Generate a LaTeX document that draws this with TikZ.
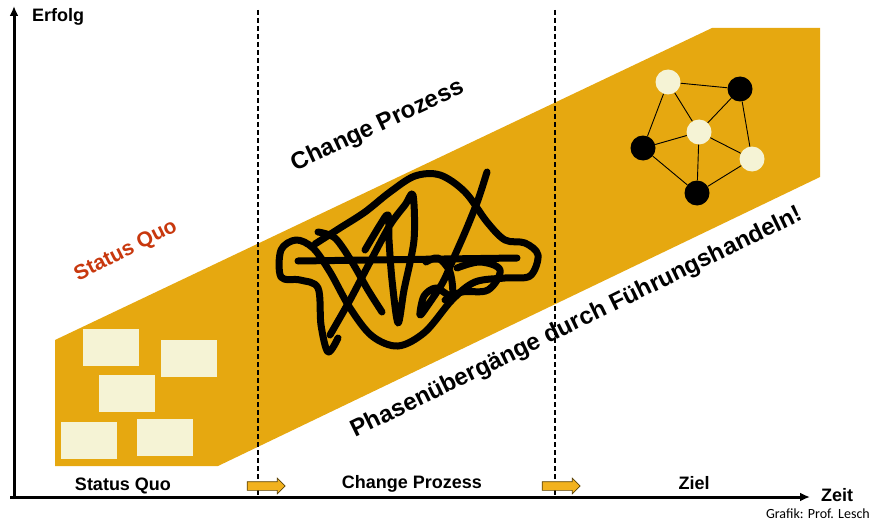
\documentclass[tikz,border=0pt]{standalone}
\usepackage{fontspec}
\setmainfont{Liberation Sans}
\newfontfamily\grafikfont{Carlito}
\usepackage{tikz}
\usetikzlibrary{positioning, arrows.meta, shapes.arrows}

\definecolor{banda}{RGB}{230,168,16}
\definecolor{crema}{RGB}{245,243,213}
\definecolor{rosso}{RGB}{200,56,14}
\definecolor{freccia}{RGB}{242,178,30}

\tikzset{
	notiz/.style={rectangle, fill=crema, minimum width=56pt, minimum height=37pt, inner sep=0pt},
	nodochiaro/.style={circle, fill=crema, minimum size=25pt, inner sep=0pt},
	nodoscuro/.style={circle, fill=black, minimum size=25pt, inner sep=0pt},
	fase/.style={single arrow, draw=black!60!banda, line width=0.7pt, fill=freccia, minimum height=38pt, single arrow head extend=3.5pt, inner sep=0pt},
	titolo/.style={font=\bfseries\fontsize{24}{28}\selectfont, inner sep=0pt},
	etichetta/.style={font=\bfseries\fontsize{18}{20}\selectfont, inner sep=0pt},
	filo/.style={line width=7pt, line join=round, line cap=round}
}

\begin{document}
\begin{tikzpicture}[x=1pt, y=-1pt]
		\useasboundingbox (0,0) rectangle (872,524);
		
		%Rappresento la banda
		\fill[banda] (55,340) -- (712,28) -- (820,28) -- (820,177) -- (218,466) -- (55,466) -- cycle;
		
		%Rappresento le linee tratteggiate
		\coordinate (sep1top) at (258,10);
		\coordinate (sep1bot) at (258,497);
		\coordinate (sep2top) at (555,10);
		\coordinate (sep2bot) at (555,497);
		\draw[dash pattern=on 5pt off 3pt, line width=1.2pt] (sep1top) -- (sep1bot);
		\draw[dash pattern=on 5pt off 3pt, line width=1.2pt] (sep2top) -- (sep2bot);
		
		%Inserisco i foglietti
		\node (nota1) at (111,347.5) [notiz]{};
		\node (nota2) at (189,358.5) [notiz]{};
		\node (nota3) at (127,393.5) [notiz]{};
		\node (nota4) at (89,440.5) [notiz]{};
		\node (nota5) at (165,437.5) [notiz]{};
		
		%Disegno il groviglio
		\draw[filo] (298,261) -- (517,258);
		\draw[filo] plot[smooth, tension=0.55] coordinates {
			(338,338) (328,352) (321,325) (318,288) (300,280) (281,277) (281,250) (296,240) (313,248) (330,272)
			(350,308) (372,336) (398,346) (425,332) (452,300) (475,282) (505,278) (530,276) (538,255) (525,243)
			(505,240) (487,222) (465,192) (440,175) (415,176) (390,192) (365,212) (340,228) (315,244)};
		\draw[filo] plot[smooth, tension=0.5] coordinates {(318,232) (335,238) (352,262) (368,290) (382,312)};
		\draw[filo] plot[smooth, tension=0.5] coordinates {
			(330,335) (350,300) (370,262) (390,225) (405,205) (413,195) (414,240) (404,290) (398,323)
			(392,280) (389,240) (388,215) (380,225) (365,250)};
		\draw[filo] plot[smooth, tension=0.5] coordinates {
			(487,172) (478,200) (466,230) (455,255) (443,282) (428,305) (420,315) (424,296) (436,288)
			(452,296) (450,272) (438,258) (426,262)};
		\draw[filo] plot[smooth, tension=0.6] coordinates {(457,268) (480,262) (500,270) (488,290) (462,292) (445,300)};
		
		%Inserisco la rete
		\node (reteA) at (668,82) [nodochiaro]{};
		\node (reteB) at (740,89) [nodoscuro]{};
		\node (reteC) at (699,132) [nodochiaro]{};
		\node (reteD) at (643,148) [nodoscuro]{};
		\node (reteE) at (752,159) [nodochiaro]{};
		\node (reteF) at (697,193) [nodoscuro]{};
		\draw[line width=0.9pt] (reteA) -- (reteB);
		\draw[line width=0.9pt] (reteA) -- (reteD);
		\draw[line width=0.9pt] (reteA) -- (reteC);
		\draw[line width=0.9pt] (reteB) -- (reteC);
		\draw[line width=0.9pt] (reteB) -- (reteE);
		\draw[line width=0.9pt] (reteD) -- (reteC);
		\draw[line width=0.9pt] (reteC) -- (reteE);
		\draw[line width=0.9pt] (reteC) -- (reteF);
		\draw[line width=0.9pt] (reteD) -- (reteF);
		\draw[line width=0.9pt] (reteF) -- (reteE);
		
		%Scritte inclinate
		\node (changeTitolo) at (378,126) [titolo, rotate=25]{Change Prozess};
		\node (statusTitolo) at (126,251) [titolo, text=rosso, font=\bfseries\fontsize{21}{24}\selectfont, rotate=27]{Status Quo};
		\node (fasiTitolo) at (577,323) [titolo, rotate=26]{Phasenübergänge durch Führungshandeln!};
		
		%Rappresento gli assi
		\coordinate (origine) at (14,499);
		\coordinate (inizioX) at (10,497);
		\coordinate (fineX) at (810,497);
		\coordinate (fineY) at (14,6);
		\draw[-{Latex[length=10pt, width=9pt]}, line width=3pt] (inizioX) -- (fineX);
		\draw[-{Latex[length=10pt, width=9pt]}, line width=3pt] (origine) -- (fineY);
		\node (erfolg) at (32,17) [etichetta, anchor=west]{Erfolg};
		\node (zeit) at (821,495) [etichetta, anchor=west]{Zeit};
		
		%Fasi sull'asse
		\node (fase1) at (123,486) [etichetta]{Status Quo};
		\node (fase2) at (412,484) [etichetta]{Change Prozess};
		\node (fase3) at (694,483) [etichetta]{Ziel};
		\node (passo1) at (264,486) [fase]{\rule{0pt}{8pt}};
		\node (passo2) at (559,486) [fase]{\rule{0pt}{8pt}};
		
		\node (fonte) at (870,514) [anchor=east, inner sep=0pt, font=\grafikfont\fontsize{14}{16}\selectfont]{Grafik: Prof. Lesch};
		
\end{tikzpicture}
\end{document}
